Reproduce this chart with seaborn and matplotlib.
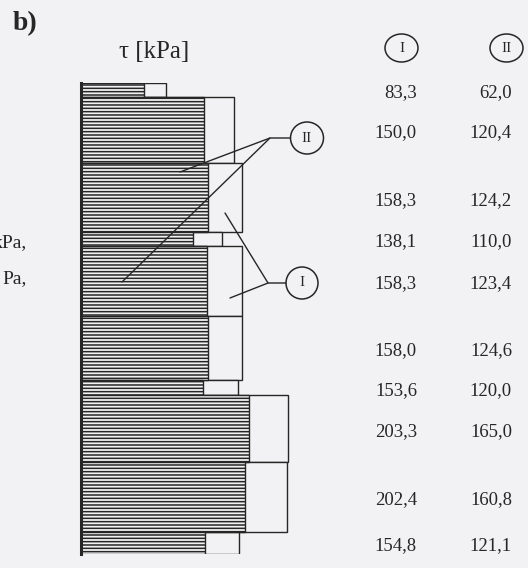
import numpy as np
import matplotlib
matplotlib.use("Agg")
import matplotlib.pyplot as plt
import matplotlib.transforms as mtransforms
from matplotlib.patches import Ellipse
import seaborn as sns

# ---------------- data ----------------
# layer thicknesses (top -> bottom, relative units as drawn)
thickness = [1.4, 6.6, 6.9, 1.4, 7.0, 6.4, 1.5, 6.7, 7.0, 2.2]
# shear stress tau [kPa], variant I (open boxes) and II (hatched bars)
tau_I = [83.3, 150.0, 158.3, 138.1, 158.3, 158.0, 153.6, 203.3, 202.4, 154.8]
tau_II = [62.0, 120.4, 124.2, 110.0, 123.4, 124.6, 120.0, 165.0, 160.8, 121.1]
series_labels = ["I", "II"]
axis_label = "τ [kPa]"
panel_label = "b)"

# ---------------- style ----------------
sns.set_theme(style="white")
plt.rcParams["font.family"] = ["Liberation Serif", "DejaVu Serif"]
plt.rcParams["hatch.linewidth"] = 1.1
BG = "#f2f2f4"
INK = "#262626"

W, H = 528, 568
fig = plt.figure(figsize=(W / 100, H / 100), dpi=100, facecolor=BG)

thk = np.array(thickness)
tops = np.concatenate([[0], np.cumsum(thk)[:-1]])
centers = tops + thk / 2
total = thk.sum()

px_per_kpa = 1.02
ax_left, ax_top, ax_bottom = 81, 83, 554
ax_w = 219
ax = fig.add_axes([ax_left / W, (H - ax_bottom) / H, ax_w / W, (ax_bottom - ax_top) / H])
ax.set_facecolor("none")
ax.set_xlim(0, ax_w / px_per_kpa)
ax.set_ylim(total, 0)

ax.barh(centers, tau_I, height=thk, left=0, color=BG, edgecolor=INK, linewidth=1.0, zorder=2)
ax.barh(centers, tau_II, height=thk, left=0, color=BG, edgecolor=INK, linewidth=1.0,
        hatch="-----", zorder=3)

sns.despine(ax=ax, left=False, bottom=True, top=True, right=True)
ax.spines["left"].set_linewidth(2.2)
ax.spines["left"].set_color(INK)
ax.spines["left"].set_zorder(5)
ax.set_xticks([])
ax.set_yticks([])

# ---------------- overlay (pixel coordinates) ----------------
ov = fig.add_axes([0, 0, 1, 1])
ov.set_xlim(0, W)
ov.set_ylim(H, 0)
ov.axis("off")
ov.patch.set_alpha(0)

ov.text(13, 24, panel_label, fontsize=20, fontweight="bold", color=INK, ha="left", va="center")
ov.text(154, 52, axis_label, fontsize=18, color=INK, ha="center", va="center")

# fragments of neighbouring text at the left edge (cut by the scan edge)
ov.text(27, 243, "kPa,", fontsize=14, color=INK, ha="right", va="center")
ov.text(27, 279, "Pa,", fontsize=14, color=INK, ha="right", va="center")

def circ(x, y, w, h, label):
    ov.add_patch(Ellipse((x, y), w, h, fill=False, edgecolor=INK, linewidth=1.1, zorder=6))
    ov.text(x, y, label, fontsize=11, color=INK, ha="center", va="center", zorder=7)

# column headers
circ(401.5, 48, 33, 28, series_labels[0])
circ(506.5, 48, 33, 28, series_labels[1])

# callouts
circ(307, 138, 33, 32, series_labels[1])
ov.plot([290.5, 270, 180], [138, 138, 172], color=INK, lw=1.0, zorder=6)
ov.plot([270, 122], [138, 282], color=INK, lw=1.0, zorder=6)
circ(302, 283, 32, 32, series_labels[0])
ov.plot([286, 268, 225], [283, 283, 213], color=INK, lw=1.0, zorder=6)
ov.plot([268, 230], [283, 298], color=INK, lw=1.0, zorder=6)

# value columns aligned to layers
trans = mtransforms.blended_transform_factory(ov.transData, ax.transData)
offset = mtransforms.ScaledTranslation(0, -3 / 100, fig.dpi_scale_trans)
for c, v1, v2 in zip(centers, tau_I, tau_II):
    ov.text(417, c, f"{v1:.1f}".replace(".", ","), transform=trans + offset,
            fontsize=13.5, color=INK, ha="right", va="center")
    ov.text(512, c, f"{v2:.1f}".replace(".", ","), transform=trans + offset,
            fontsize=13.5, color=INK, ha="right", va="center")

fig.savefig("out.png", dpi=100, facecolor=BG)
